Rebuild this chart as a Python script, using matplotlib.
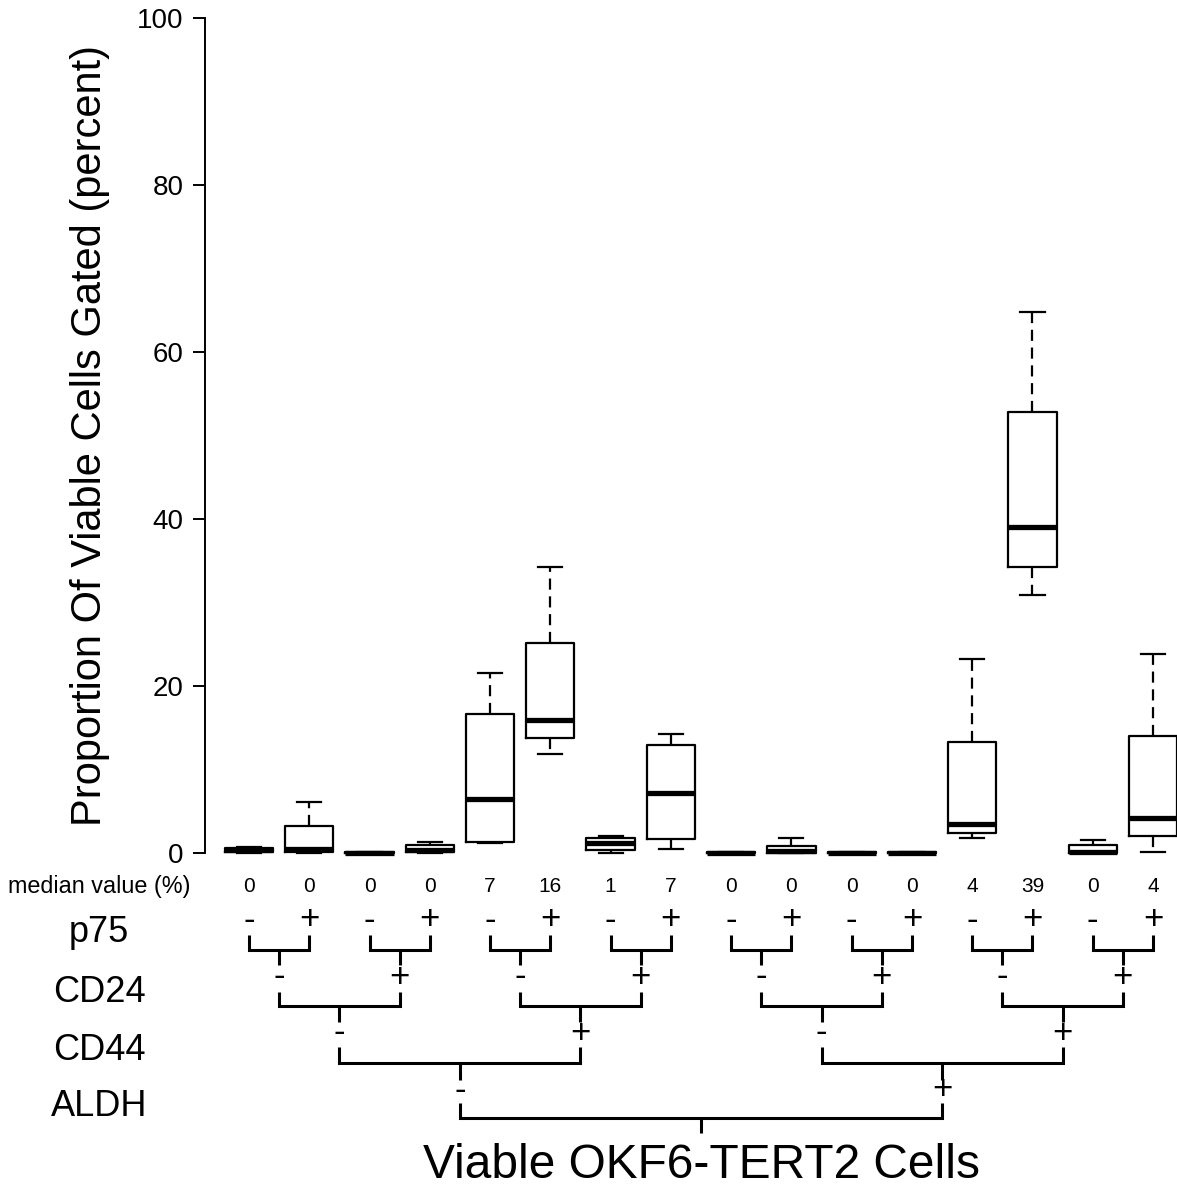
import numpy as np
import matplotlib
matplotlib.use("Agg")
import matplotlib.pyplot as plt

plt.rcParams['font.family'] = ['Liberation Sans', 'DejaVu Sans']

W, H = 1177, 1192

# box statistics per gated population (percent of viable cells)
whis_lo = [0.0, 0.0, 0.0, 0.0, 1.2, 11.9, 0.0, 0.5, 0.0, 0.0, 0.0, 0.0, 1.8, 30.9, 0.0, 0.1]
q1 = [0.1, 0.1, 0.0, 0.1, 1.3, 13.8, 0.3, 1.7, 0.0, 0.05, 0.0, 0.0, 2.4, 34.2, 0.05, 2.0]
med = [0.4, 0.5, 0.05, 0.3, 6.5, 15.9, 1.2, 7.2, 0.05, 0.2, 0.05, 0.05, 3.5, 39.1, 0.15, 4.2]
q3 = [0.6, 3.2, 0.1, 0.9, 16.6, 25.1, 1.8, 12.9, 0.1, 0.8, 0.1, 0.1, 13.3, 52.8, 0.9, 14.0]
whis_hi = [0.7, 6.1, 0.15, 1.3, 21.5, 34.2, 2.0, 14.2, 0.1, 1.8, 0.1, 0.1, 23.2, 64.8, 1.6, 23.8]
median_labels = ["0", "0", "0", "0", "7", "16", "1", "7",
                 "0", "0", "0", "0", "4", "39", "0", "4"]
markers = ["p75", "CD24", "CD44", "ALDH"]
y_ticks = [0, 20, 40, 60, 80, 100]


def fx(px):
    return px / W


def fy(py):
    return 1 - py / H


fig = plt.figure(figsize=(W / 100, H / 100), dpi=100)

# main box plot panel
ax = fig.add_axes([fx(205), fy(853), fx(1177) - fx(205), fy(18) - fy(853)])
positions = np.arange(1, len(med) + 1)
stats = [dict(whislo=a, q1=b, med=c, q3=d, whishi=e)
         for a, b, c, d, e in zip(whis_lo, q1, med, q3, whis_hi)]
ax.bxp(stats, positions=positions, widths=0.8, capwidths=0.4,
       showfliers=False, manage_ticks=False,
       boxprops=dict(color='black', linewidth=1.6),
       whiskerprops=dict(color='black', linewidth=1.6, linestyle=(0, (5, 3))),
       capprops=dict(color='black', linewidth=1.6),
       medianprops=dict(color='black', linewidth=3.8, solid_capstyle='butt'))
for line in ax.lines:
    line.set_clip_on(False)

ax.set_xlim(0.270, 16.398)
ax.set_ylim(0, 100)
ax.set_xticks([])
ax.set_yticks(y_ticks)
ax.tick_params(axis='y', length=8.6, width=1.4, labelsize=20, pad=7)
for side in ['top', 'right', 'bottom']:
    ax.spines[side].set_visible(False)
ax.spines['left'].set_linewidth(1.4)
ax.patch.set_visible(False)

fig.text(fx(90), fy(436), "Proportion Of Viable Cells Gated (percent)",
         rotation=90, fontsize=30, ha='center', va='center')

# gating tree below the boxes (y in pixels from the top)
ax2 = fig.add_axes([fx(205), 0, fx(1177) - fx(205), 1])
ax2.set_xlim(ax.get_xlim())
ax2.set_ylim(H, 0)
ax2.axis('off')

fig.text(fx(8), fy(887), "median value (%)", ha='left', va='center', fontsize=16.8)
for p, lab in zip(positions, median_labels):
    ax2.text(p, 887, lab, ha='center', va='center', fontsize=15)

sign_y = [920, 977, 1033, 1090]
label_y = [932, 993, 1050, 1107]
br_top = [935, 992, 1047, 1103]
br_h = [950, 1006, 1063, 1118]
stem_bot = [965, 1022, 1080, 1133]

nodes = positions.astype(float)
for k, name in enumerate(markers):
    fig.text(fx(99), fy(label_y[k]), name, ha='center', va='center', fontsize=26)
    left, right = nodes[0::2], nodes[1::2]
    mids = (left + right) / 2
    for l, r, m in zip(left, right, mids):
        ax2.text(l, sign_y[k], "-", ha='center', va='center', fontsize=25)
        ax2.text(r, sign_y[k], "+", ha='center', va='center', fontsize=25)
        ax2.plot([l, l, r, r], [br_top[k], br_h[k], br_h[k], br_top[k]],
                 color='black', lw=2.2, solid_joinstyle='miter',
                 solid_capstyle='butt', clip_on=False)
        ax2.plot([m, m], [br_h[k], stem_bot[k]], color='black', lw=2.2,
                 solid_capstyle='butt', clip_on=False)
    nodes = mids

ax2.text(nodes[0], 1165, "Viable OKF6-TERT2 Cells", ha='center', va='center',
         fontsize=34.5)

fig.savefig("out.png", dpi=100)
